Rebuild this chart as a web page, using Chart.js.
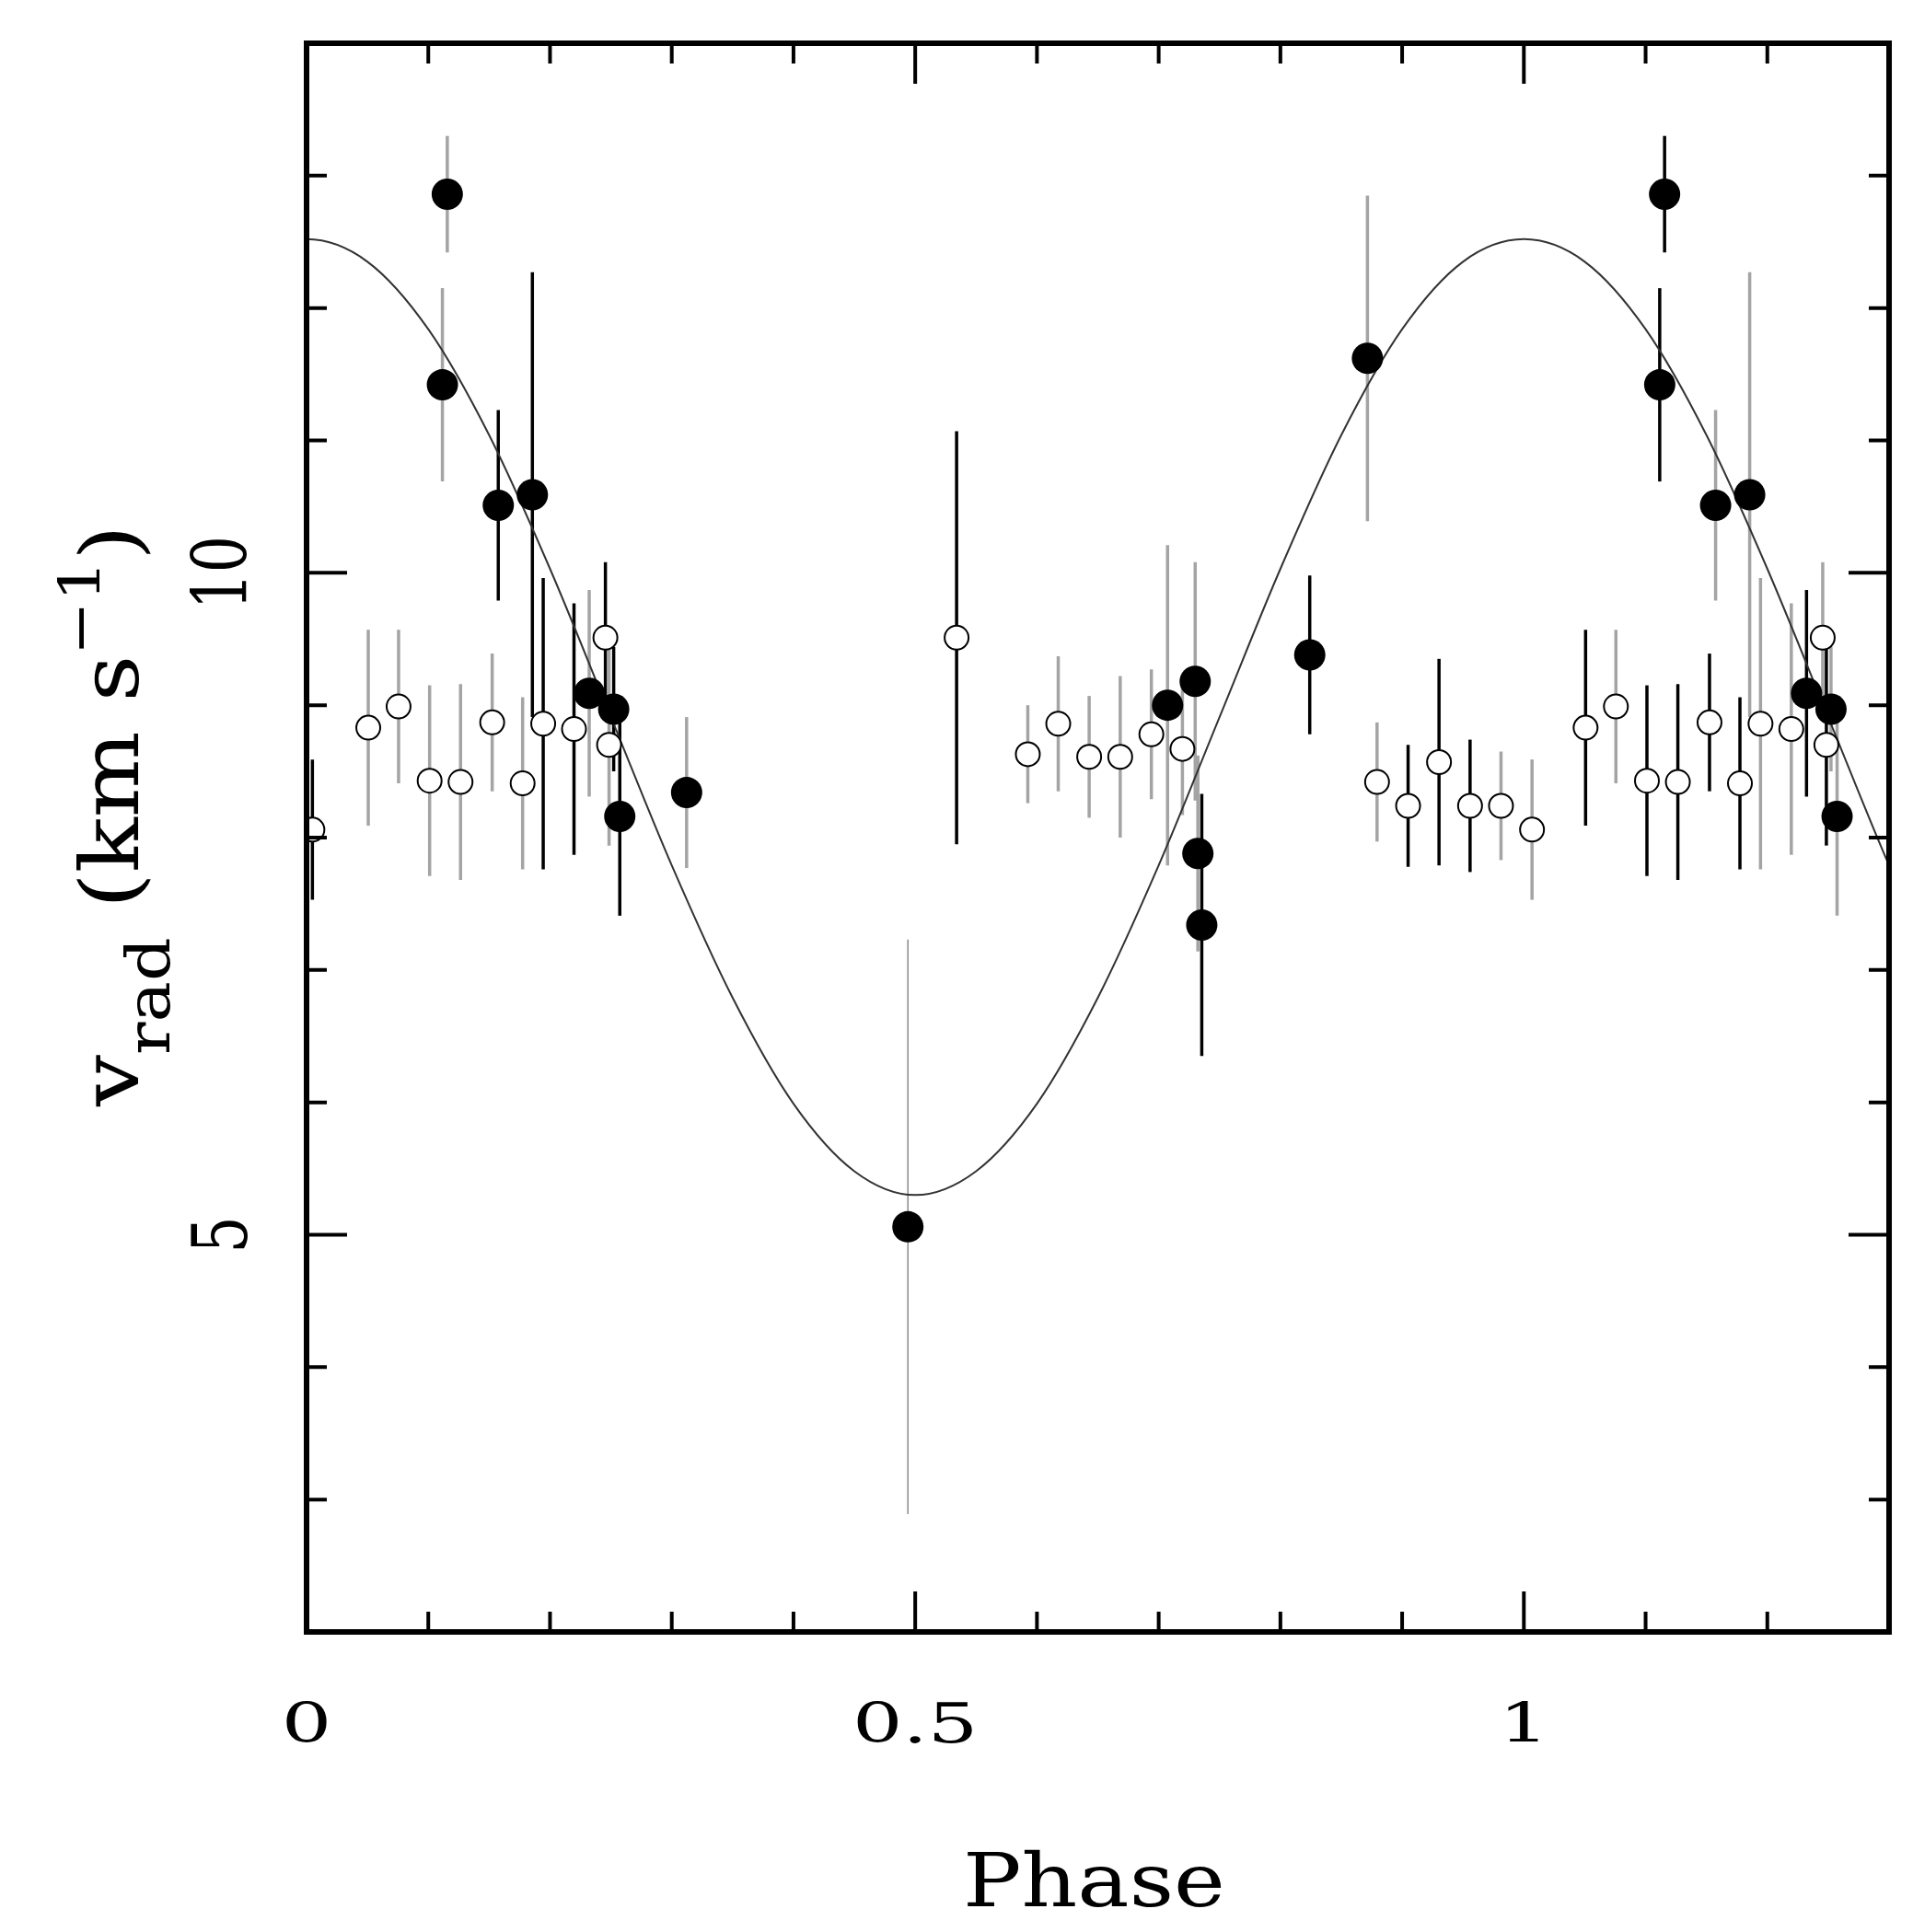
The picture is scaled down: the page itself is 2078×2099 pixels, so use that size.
<!DOCTYPE html>
<html>
<head>
<meta charset="utf-8">
<title>Radial velocity curve</title>
<script src="https://cdn.jsdelivr.net/npm/chart.js@4.4.0/dist/chart.umd.min.js"></script>
<style>
html, body { margin: 0; padding: 0; background: #fff; }
#wrap { width: 2078px; height: 2099px; }
</style>
</head>
<body>
<div id="wrap"><canvas id="rv"></canvas></div>
<script>
// filled symbols: phase, v_rad, error, source (1 = black bar, 2 = grey bar, 3 = faint bar)
var filledPhase  = [0.1156, 0.1116, 0.1575, 0.1855, 0.2322, 0.2523, 0.2573, 0.3122, 0.494,
                    0.7073, 0.7300, 0.7322, 0.7354, 0.8241, 0.8715,
                    1.1156, 1.1116, 1.1575, 1.1855, 1.2322, 1.2523, 1.2573];
var filledVel    = [12.86, 11.42, 10.51, 10.59, 9.09, 8.97, 8.16, 8.34, 5.06,
                    9.00, 9.18, 7.88, 7.34, 9.38, 11.62,
                    12.86, 11.42, 10.51, 10.59, 9.09, 8.97, 8.16];
var filledErr    = [0.44, 0.73, 0.72, 1.68, 0.78, 0.47, 0.75, 0.57, 2.17,
                    1.21, 0.90, 0.74, 0.99, 0.60, 1.23,
                    0.44, 0.73, 0.72, 1.68, 0.78, 0.47, 0.75];
var filledSource = [2, 2, 1, 1, 2, 1, 1, 2, 3,
                    2, 2, 2, 1, 1, 2,
                    1, 1, 2, 2, 1, 2, 2];

// open symbols
var openPhase  = [0.0048, 0.0507, 0.0756, 0.1011, 0.1265, 0.1525, 0.1775, 0.1944, 0.2197, 0.2455, 0.2485,
                  0.534, 0.5925, 0.6175, 0.6429, 0.6684, 0.6940, 0.7195,
                  0.8794, 0.9049, 0.9303, 0.9558, 0.9812, 1.0067,
                  1.0507, 1.0756, 1.1011, 1.1265, 1.1525, 1.1775, 1.1944, 1.2197, 1.2455, 1.2485];
var openVel    = [8.06, 8.83, 8.99, 8.43, 8.42, 8.87, 8.41, 8.86, 8.82, 9.51, 8.70,
                  9.51, 8.63, 8.86, 8.61, 8.61, 8.78, 8.67,
                  8.42, 8.24, 8.57, 8.24, 8.24, 8.06,
                  8.83, 8.99, 8.43, 8.42, 8.87, 8.41, 8.86, 8.82, 9.51, 8.70];
var openErr    = [0.53, 0.74, 0.58, 0.72, 0.74, 0.52, 0.65, 1.10, 0.95, 0.57, 0.76,
                  1.56, 0.37, 0.51, 0.46, 0.61, 0.49, 0.50,
                  0.45, 0.46, 0.78, 0.50, 0.41, 0.53,
                  0.74, 0.58, 0.72, 0.74, 0.52, 0.65, 1.10, 0.95, 0.57, 0.76];
var openSource = [1, 2, 2, 2, 2, 2, 2, 1, 1, 1, 2,
                  1, 2, 2, 2, 2, 2, 2,
                  2, 1, 1, 1, 2, 2,
                  1, 2, 1, 1, 1, 1, 2, 2, 2, 1];

// fitted orbit (one sample past each edge so the ends stay smooth)
var curvePhase = [-0.05, 0, 0.05, 0.1, 0.15, 0.2, 0.25, 0.3, 0.35, 0.4, 0.45, 0.5, 0.55, 0.6, 0.65,
                  0.7, 0.75, 0.8, 0.85, 0.9, 0.95, 1.0, 1.05, 1.1, 1.15, 1.2, 1.25, 1.3, 1.35];
var curveVel   = [12.35, 12.52, 12.35, 11.84, 11.04, 10.03, 8.91, 7.79, 6.79, 5.99, 5.48, 5.30, 5.48, 5.99, 6.79,
                  7.79, 8.91, 10.03, 11.04, 11.84, 12.35, 12.52, 12.35, 11.84, 11.04, 10.03, 8.91, 7.79, 6.79];

var xTickValues = [0, 0.5, 1];
var xTickLabels = ['0', '0.5', '1'];
var yTickValues = [5, 10];
var yTickLabels = ['5', '10'];

var barStyle = {
    1: { color: '#000000', width: 3.5 },
    2: { color: '#a4a4a4', width: 3.5 },
    3: { color: '#8a8a8a', width: 1.5 }
};

function pts(xs, ys) {
    var out = [];
    for (var i = 0; i < xs.length; i++) out.push({ x: xs[i], y: ys[i] });
    return out;
}

var errorBars = {
    id: 'errorBars',
    beforeDatasetsDraw: function(chart) {
        var ctx = chart.ctx, sx = chart.scales.x, sy = chart.scales.y, a = chart.chartArea;
        ctx.save();
        ctx.beginPath();
        ctx.rect(a.left, a.top, a.right - a.left, a.bottom - a.top);
        ctx.clip();
        [[filledPhase, filledVel, filledErr, filledSource],
         [openPhase, openVel, openErr, openSource]].forEach(function(s) {
            for (var i = 0; i < s[0].length; i++) {
                var st = barStyle[s[3][i]];
                var px = sx.getPixelForValue(s[0][i]);
                ctx.strokeStyle = st.color;
                ctx.lineWidth = st.width;
                ctx.beginPath();
                ctx.moveTo(px, sy.getPixelForValue(s[1][i] - s[2][i]));
                ctx.lineTo(px, sy.getPixelForValue(s[1][i] + s[2][i]));
                ctx.stroke();
            }
        });
        ctx.restore();
    }
};

function putText(ctx, str, x, y, sx, rot) {
    ctx.save();
    ctx.translate(x, y);
    if (rot) ctx.rotate(-Math.PI / 2);
    ctx.scale(sx, 1);
    ctx.textAlign = 'center';
    ctx.textBaseline = 'alphabetic';
    ctx.fillText(str, 0, 0);
    ctx.restore();
}

var frame = {
    id: 'frame',
    afterDraw: function(chart) {
        var ctx = chart.ctx, sx = chart.scales.x, sy = chart.scales.y, a = chart.chartArea;
        ctx.save();
        ctx.strokeStyle = '#000';
        ctx.fillStyle = '#000';

        // inward ticks on all four sides
        ctx.lineWidth = 4;
        sx.ticks.forEach(function(t) {
            var v = t.value, px = sx.getPixelForValue(v);
            var len = Math.abs(v * 2 - Math.round(v * 2)) < 1e-6 ? 44 : 22;
            ctx.beginPath();
            ctx.moveTo(px, a.bottom); ctx.lineTo(px, a.bottom - len);
            ctx.moveTo(px, a.top); ctx.lineTo(px, a.top + len);
            ctx.stroke();
        });
        sy.ticks.forEach(function(t) {
            var v = t.value, py = sy.getPixelForValue(v);
            var len = Math.abs(v / 5 - Math.round(v / 5)) < 1e-6 ? 44 : 22;
            ctx.beginPath();
            ctx.moveTo(a.left, py); ctx.lineTo(a.left + len, py);
            ctx.moveTo(a.right, py); ctx.lineTo(a.right - len, py);
            ctx.stroke();
        });

        ctx.lineWidth = 6;
        ctx.strokeRect(a.left, a.top, a.right - a.left, a.bottom - a.top);

        // tick labels
        ctx.font = '60px "DejaVu Serif"';
        xTickValues.forEach(function(v, i) {
            putText(ctx, xTickLabels[i], sx.getPixelForValue(v), a.bottom + 120, 1.43, false);
        });
        ctx.font = '82px "DejaVu Serif"';
        yTickValues.forEach(function(v, i) {
            putText(ctx, yTickLabels[i], a.left - 65, sy.getPixelForValue(v), 0.77, true);
        });

        // axis titles
        ctx.font = '80px "DejaVu Serif"';
        putText(ctx, 'Phase', (a.left + a.right) / 2 - 4, a.bottom + 298, 1.18, false);

        var parts = [
            { t: 'v', f: '88px "DejaVu Serif"', dy: 0 },
            { t: 'rad', f: '66px "DejaVu Serif"', dy: 34 },
            { t: ' (km s', f: '88px "DejaVu Serif"', dy: 0 },
            { t: '\u22121', f: '62px "DejaVu Serif"', dy: -42 },
            { t: ')', f: '88px "DejaVu Serif"', dy: 0 }
        ];
        var total = 0;
        parts.forEach(function(p) { ctx.font = p.f; p.w = ctx.measureText(p.t).width; total += p.w; });
        var span = 632;
        ctx.save();
        ctx.translate(150, 1202);
        ctx.rotate(-Math.PI / 2);
        ctx.scale(span / total, 1);
        ctx.textAlign = 'left';
        var cx = 0;
        parts.forEach(function(p) {
            ctx.font = p.f;
            ctx.fillText(p.t, cx, p.dy);
            cx += p.w;
        });
        ctx.restore();

        ctx.restore();
    }
};

new Chart(document.getElementById('rv'), {
    type: 'scatter',
    data: {
        datasets: [
            {
                type: 'line',
                data: pts(curvePhase, curveVel),
                borderColor: '#333333',
                borderWidth: 2,
                pointRadius: 0,
                fill: false,
                cubicInterpolationMode: 'monotone',
                order: 3
            },
            {
                data: pts(openPhase, openVel),
                pointRadius: 13,
                pointBackgroundColor: '#ffffff',
                pointBorderColor: '#000000',
                pointBorderWidth: 2,
                order: 2
            },
            {
                data: pts(filledPhase, filledVel),
                pointRadius: 17,
                pointBackgroundColor: '#000000',
                pointBorderWidth: 0,
                order: 1
            }
        ]
    },
    options: {
        responsive: true,
        maintainAspectRatio: false,
        animation: false,
        layout: { padding: { left: 325, right: 26, top: 47, bottom: 318 } },
        plugins: { legend: { display: false }, tooltip: { enabled: false } },
        scales: {
            x: {
                type: 'linear', min: 0, max: 1.3,
                ticks: { display: false, stepSize: 0.1 },
                grid: { display: false },
                border: { display: false }
            },
            y: {
                type: 'linear', min: 2, max: 14,
                ticks: { display: false, stepSize: 1 },
                grid: { display: false },
                border: { display: false }
            }
        }
    },
    plugins: [errorBars, frame]
});
</script>
</body>
</html>
